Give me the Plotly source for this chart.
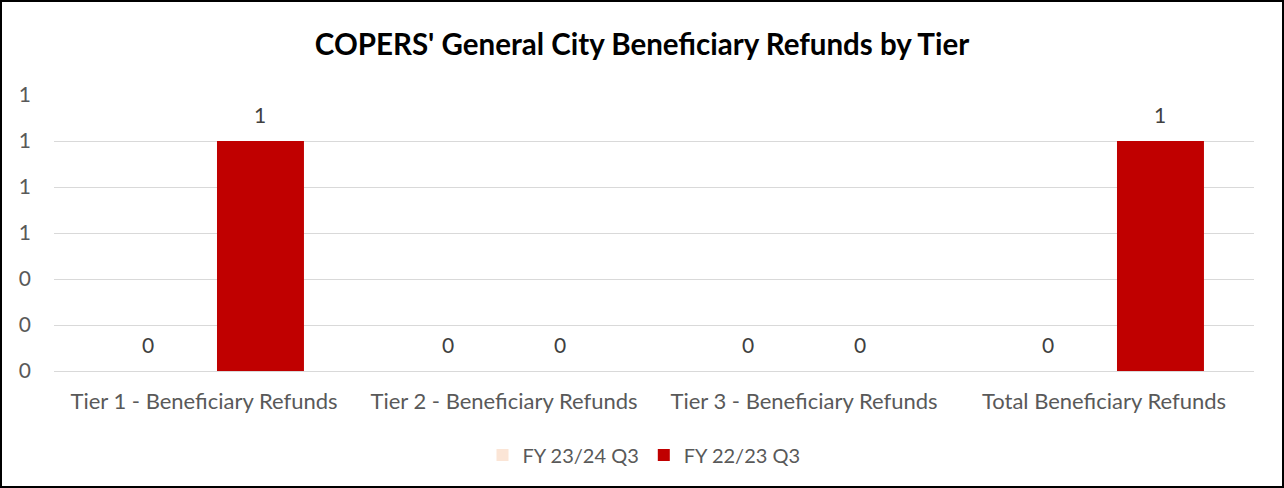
import plotly.graph_objects as go

categories = ["Tier 1 - Beneficiary Refunds", "Tier 2 - Beneficiary Refunds",
              "Tier 3 - Beneficiary Refunds", "Total Beneficiary Refunds"]
series_names = ["FY 23/24 Q3", "FY 22/23 Q3"]
fy2324 = [0, 0, 0, 0]
fy2223 = [1, 0, 0, 1]
colors = ["#FBE5D6", "#C00000"]
title = "COPERS' General City Beneficiary Refunds by Tier"

W, H = 1284, 488
ML, MR, MT, MB = 54, 30, 95, 117
PW, PH = W - ML - MR, H - MT - MB
FONT = "Lato"
GREY = "#595959"

fig = go.Figure()
for name, vals, col in zip(series_names, [fy2324, fy2223], colors):
    fig.add_trace(go.Bar(x=categories, y=vals, name=name, marker_color=col,
                         marker_line_width=0))

# data labels
bargap, bargroupgap = 0.247, 0.23
group_w = PW / len(categories)
slot = group_w * (1 - bargap) / 2
for i, vals in enumerate([fy2324, fy2223]):
    xs = (i - 0.5) * slot
    for c, v in zip(categories, vals):
        fig.add_annotation(x=c, y=v, text=str(v), showarrow=False,
                           xshift=xs, yshift=27, yanchor="middle",
                           font=dict(family=FONT, size=21, color="#404040"))

fig.add_shape(type="rect", xref="paper", yref="paper",
              x0=(1 - ML) / PW, x1=(W - 1 - ML) / PW,
              y0=-(H - 1 - (H - MB)) / PH, y1=(H - MB - 1) / PH,
              line=dict(color="black", width=2), layer="above")

fig.update_layout(
    width=W, height=H,
    margin=dict(l=ML, r=MR, t=MT, b=MB),
    paper_bgcolor="white", plot_bgcolor="white",
    barmode="group", bargap=bargap, bargroupgap=bargroupgap,
    title=dict(text="<b>" + title + "</b>", x=0.5, xanchor="center",
               y=1 - 45 / H, yanchor="middle",
               font=dict(family=FONT, size=29.5, color="black")),
    font=dict(family=FONT, size=21, color=GREY),
    showlegend=True,
    legend=dict(orientation="h", x=0.5 - 10 / PW, xanchor="center",
                y=-(455 - (H - MB)) / PH, yanchor="middle",
                font=dict(family=FONT, size=20, color=GREY),
                traceorder="normal"),
    xaxis=dict(showgrid=False, showline=False, ticks="",
               ticklabelstandoff=15, tickfont=dict(size=22, color=GREY)),
    yaxis=dict(range=[0, 1.2], dtick=0.2, tickformat=".0f",
               showgrid=True, gridcolor="#D9D9D9", gridwidth=1,
               zeroline=True, zerolinecolor="#D9D9D9", zerolinewidth=1,
               showline=False, ticks="", ticklabelstandoff=22,
               tickfont=dict(size=21, color=GREY)),
)

fig.write_html("out.html", config={"displayModeBar": False},
               post_script="document.body.style.margin='0';document.body.style.overflow='hidden';")
